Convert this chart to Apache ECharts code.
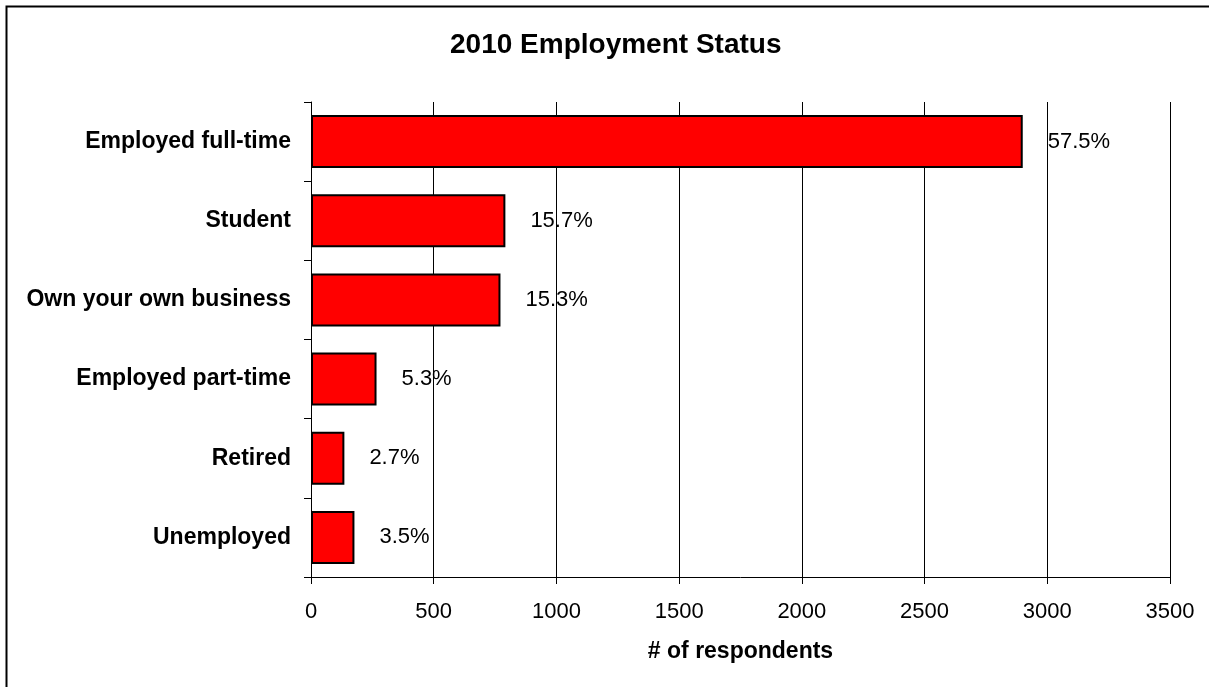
<!DOCTYPE html>
<html>
<head>
<meta charset="utf-8">
<title>2010 Employment Status</title>
<script src="https://cdn.jsdelivr.net/npm/echarts@6/dist/echarts.min.js"></script>
<style>
  html, body { margin: 0; padding: 0; background: #fff; }
  #chart { width: 1209px; height: 687px; }
</style>
</head>
<body>
<div id="chart"></div>
<script>
// Survey answers, top to bottom
const categories = [
  'Employed full-time',
  'Student',
  'Own your own business',
  'Employed part-time',
  'Retired',
  'Unemployed'
];
// Number of respondents per answer
const respondents = [2900, 792, 772, 267, 136, 177];
// Value axis ticks
const axisMin = 0;
const axisMax = 3500;
const axisStep = 500;

const total = respondents.reduce((a, b) => a + b, 0);
const FONT = '"Liberation Sans", Arial, Helvetica, sans-serif';

const chart = echarts.init(document.getElementById('chart'), null, { renderer: 'canvas' });

chart.setOption({
  backgroundColor: '#ffffff',
  animation: false,
  title: {
    text: '2010 Employment Status',
    left: 445,
    top: 26,
    textStyle: { fontFamily: FONT, fontSize: 28, fontWeight: 'bold', color: '#000' }
  },
  graphic: [{
    type: 'rect',
    shape: { x: 6.5, y: 6.5, width: 1400, height: 900 },
    style: { fill: 'none', stroke: '#000', lineWidth: 2 },
    silent: true,
    z: 100
  }],
  grid: { left: 311, right: 39, top: 102, bottom: 110 },
  xAxis: {
    type: 'value',
    min: axisMin,
    max: axisMax,
    interval: axisStep,
    name: '# of respondents',
    nameLocation: 'middle',
    nameGap: 63,
    nameTextStyle: { fontFamily: FONT, fontSize: 23, fontWeight: 'bold', color: '#000' },
    axisLine: { show: true, lineStyle: { color: '#000', width: 1 } },
    axisTick: { show: true, length: 7, lineStyle: { color: '#000', width: 1 } },
    axisLabel: {
      fontFamily: FONT, fontSize: 22, color: '#000', margin: 24,
      formatter: v => String(v)
    },
    splitLine: { show: true, lineStyle: { color: '#000', width: 1 } }
  },
  yAxis: {
    type: 'category',
    data: categories,
    inverse: true,
    axisLine: { show: true, lineStyle: { color: '#000', width: 1 } },
    axisTick: { show: true, length: 7, lineStyle: { color: '#000', width: 1 } },
    axisLabel: { fontFamily: FONT, fontSize: 23, fontWeight: 'bold', color: '#000', margin: 20 },
    splitLine: { show: false }
  },
  series: [{
    type: 'bar',
    data: respondents,
    barCategoryGap: '33%',
    itemStyle: { color: '#ff0000', borderColor: '#000', borderWidth: 2 },
    label: {
      show: true,
      position: 'right',
      distance: 25,
      fontFamily: FONT,
      fontSize: 22,
      color: '#000',
      formatter: p => (p.value / total * 100).toFixed(1) + '%'
    }
  }]
});
</script>
</body>
</html>
